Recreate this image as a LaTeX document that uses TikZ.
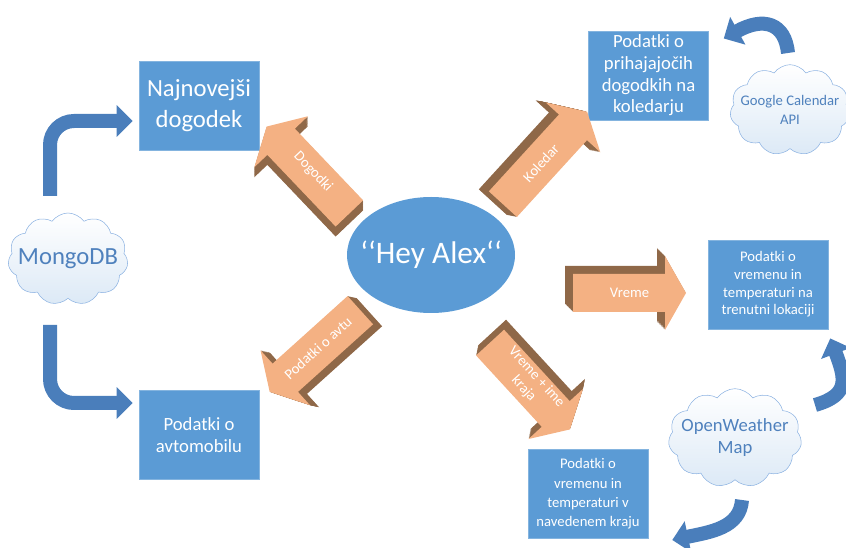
\documentclass[tikz,border=0pt]{standalone}
\usepackage{fontspec}
\setmainfont{Carlito}
\usetikzlibrary{arrows.meta,positioning,shapes.geometric,shapes.symbols}
\definecolor{boxblue}{HTML}{5B9BD5}
\definecolor{arrowblue}{HTML}{4A7EBB}
\definecolor{cloudtext}{HTML}{4F81BD}
\definecolor{cloudedge}{HTML}{8DB3E2}
\definecolor{cloudfill}{HTML}{DCE9F6}
\definecolor{peach}{HTML}{F4B183}
\definecolor{sidebrown}{HTML}{8F6848}

% 3D block arrow: centre x, centre y, angle, length, side dx, side dy
\newcommand{\blokpuscica}[6]{%
  \foreach \k in {1,...,12}
    \fill[sidebrown, shift={({#1+\k*(#5)/12},{#2+\k*(#6)/12})}, rotate=#3]
      (-#4/2,-19) -- (#4/2-21,-19) -- (#4/2-21,-37) -- (#4/2,0)
      -- (#4/2-21,37) -- (#4/2-21,19) -- (-#4/2,19) -- cycle;
  \fill[peach, shift={(#1,#2)}, rotate=#3]
      (-#4/2,-19) -- (#4/2-21,-19) -- (#4/2-21,-37) -- (#4/2,0)
      -- (#4/2-21,37) -- (#4/2-21,19) -- (-#4/2,19) -- cycle;
}

\begin{document}
\begin{tikzpicture}[x=0.75pt,y=-0.75pt,
  kvadrat/.style={rectangle, fill=boxblue, draw=boxblue!75!white, text=white,
    align=center, inner sep=1pt, minimum width=90pt, minimum height=67pt},
  oblak/.style={cloud, cloud puffs=11, cloud puff arc=110, cloud ignores aspect,
    draw=cloudedge, thin, top color=white, bottom color=cloudfill},
  oblaknapis/.style={text=cloudtext, align=center},
  napis/.style={text=white, align=center, font=\fontsize{11}{13}\selectfont},
  modra/.style={arrowblue, line width=10.5pt, -{Triangle[width=23pt,length=12pt]}}]
\clip (0,0) rectangle (846,548);

% boxes
\node[kvadrat, font=\fontsize{18.5}{23}\selectfont] (najnovejsi) at (199,105.5) {Najnovejši\\dogodek};
\node[kvadrat, font=\fontsize{14}{16}\selectfont] (avto) at (199,435) {Podatki o\\avtomobilu};
\node[kvadrat, font=\fontsize{14}{16.3}\selectfont] (koledar) at (648.5,75.5) {Podatki o\\prihajajočih\\dogodkih na\\koledarju};
\node[kvadrat, font=\fontsize{11}{13.3}\selectfont] (trenutni) at (768,284.5) {Podatki o\\vremenu in\\temperaturi na\\trenutni lokaciji};
\node[kvadrat, font=\fontsize{11}{14.5}\selectfont] (navedeni) at (588,494) {Podatki o\\vremenu in\\temperaturi v\\navedenem kraju};

% centre
\node[ellipse, fill=boxblue, minimum width=126pt, minimum height=87pt, inner sep=0pt,
  label={[text=white, font=\fontsize{23.5}{26}\selectfont]center:‘‘Hey Alex‘‘}] (hey) at (431,255) {};

% clouds
\node[oblak, minimum width=90pt, minimum height=69pt,
  label={[oblaknapis, font=\fontsize{18.5}{22}\selectfont]center:MongoDB}] (mongo) at (68,259) {};
\node[oblak, minimum width=90pt, minimum height=68pt,
  label={[oblaknapis, font=\fontsize{11}{13.7}\selectfont]center:Google Calendar\\API}] (gcal) at (790,110) {};
\node[oblak, minimum width=100pt, minimum height=74pt,
  label={[oblaknapis, font=\fontsize{14}{16.5}\selectfont]center:OpenWeather\\Map}] (ow) at (735,438) {};

% orange arrows
\blokpuscica{308}{170}{133.6}{120}{0}{10}
\blokpuscica{545}{158}{47.6}{125}{-10}{-2}
\blokpuscica{315}{351}{222}{122}{9}{2}
\blokpuscica{530}{386}{-47.4}{118}{2}{-10}
\blokpuscica{629.5}{293}{0}{113}{-8}{-8}
\node[napis, rotate=-46.4] (dogodki) at (313,172) {Dogodki};
\node[napis, rotate=47.6] (koledarnapis) at (541,163) {Koledar};
\node[napis, rotate=42] (avtu) at (318,348) {Podatki o avtu};
\node[napis, rotate=-47.4] (kraja) at (530,383) {Vreme + ime\\kraja};
\node[napis] (vreme) at (629.5,293) {Vreme};

% blue arrows
\draw[modra, rounded corners=18pt] ([shift={(-18,-63)}]mongo.center) |- ([shift={(-6,15.5)}]najnovejsi.west);
\draw[modra, rounded corners=18pt] ([shift={(-18,66)}]mongo.center) |- ([shift={(-6,-32)}]avto.west);
\draw[modra] ([shift={(-2,-57)}]gcal.center) .. controls +(-3,-30) and +(40,-22) .. ([shift={(15,-37)}]koledar.east);
\draw[modra] ([shift={(80,-33)}]ow.center) .. controls +(35,-10) and +(15,40) .. ([shift={(2,9)}]trenutni.south east);
\draw[modra] ([shift={(7,62)}]ow.center) .. controls +(-2,28) and +(38,-8) .. ([shift={(24,46)}]navedeni.east);
\end{tikzpicture}
\end{document}
